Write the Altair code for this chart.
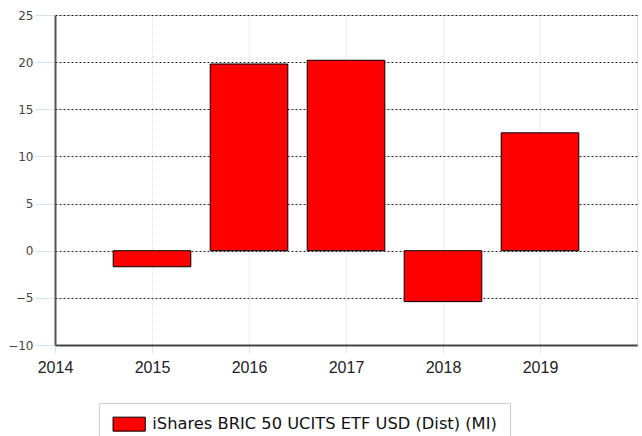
import altair as alt
import pandas as pd

years = [2015, 2016, 2017, 2018, 2019]
values = [-1.7, 19.8, 20.2, -5.4, 12.5]
series = "iShares BRIC 50 UCITS ETF USD (Dist) (MI)"
x_ticks = [2014, 2015, 2016, 2017, 2018, 2019]
y_ticks = [-10, -5, 0, 5, 10, 15, 20, 25]

df = pd.DataFrame({"year": years, "value": values, "series": [series] * len(years)})

bars = (
    alt.Chart(df)
    .transform_calculate(x0="datum.year - 0.4", x1="datum.year + 0.4", base="0")
    .mark_rect(stroke="black", strokeWidth=1)
    .encode(
        x=alt.X(
            "x0:Q",
            scale=alt.Scale(domain=[2014, 2020], nice=False, zero=False),
            axis=alt.Axis(
                values=x_ticks,
                format="d",
                title=None,
                grid=True,
                gridColor="#d3e3f5",
                gridDash=[2, 2],
                gridWidth=1,
                ticks=True,
                tickColor="#d3e3f5",
                tickSize=8,
                domainColor="#444444",
                domainWidth=2,
                labelFont="Liberation Sans",
                labelFontSize=16,
                labelColor="#222222",
                labelPadding=6,
                labelFlush=False,
            ),
        ),
        x2="x1:Q",
        y=alt.Y(
            "value:Q",
            scale=alt.Scale(domain=[-10, 25], nice=False),
            axis=alt.Axis(
                values=y_ticks,
                title=None,
                grid=True,
                gridColor="#222222",
                gridDash=[2, 2],
                gridWidth=1,
                ticks=True,
                tickColor="#d3e3f5",
                tickSize=20,
                domainColor="#555555",
                domainWidth=2,
                labelFont="DejaVu Sans",
                labelFontSize=12,
                labelColor="#444444",
                labelPadding=2,
            ),
        ),
        y2="base:Q",
        fill=alt.Fill(
            "series:N",
            scale=alt.Scale(domain=[series], range=["#ff0000"]),
            legend=alt.Legend(
                title=None,
                orient="none",
                legendX=44,
                legendY=388,
                symbolType="M-2.3,-1H2.3V1H-2.3Z",
                symbolSize=196,
                symbolOffset=9,
                symbolStrokeColor="black",
                symbolStrokeWidth=1,
                labelFont="DejaVu Sans",
                labelFontSize=16.3,
                labelColor="#111111",
                labelLimit=700,
                labelOffset=15,
                labelExpr="datum.label + '\u2003\u2003'",
                padding=13,
                strokeColor="#cccccc",
                fillColor="white",
            ),
        ),
    )
)

chart = (
    bars.properties(width=582, height=330, autosize=alt.AutoSizeParams(type="none"),
                    padding={"left": 55, "top": 15, "right": 5, "bottom": 91})
    .configure_view(stroke=None)
    .configure(background="white")
)

chart.save("out.html", embed_options={"renderer": "svg", "actions": False})
